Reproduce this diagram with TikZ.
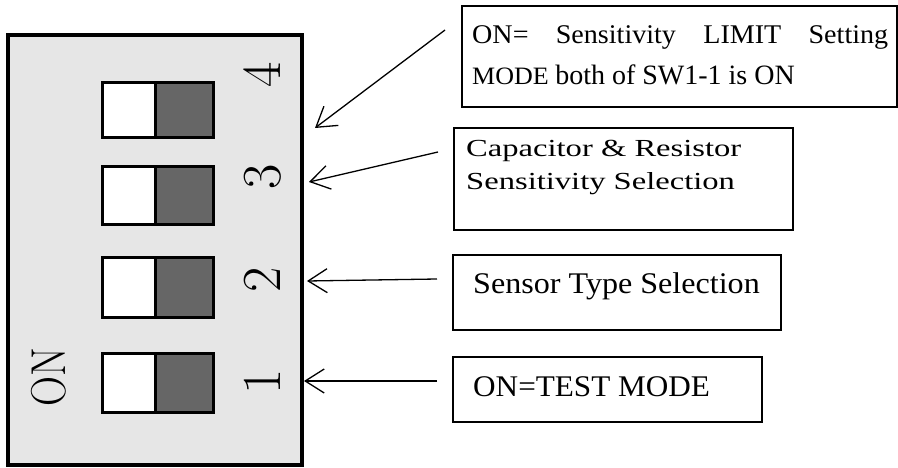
\documentclass[tikz,border=0pt]{standalone}
\usepackage{fontspec}
\usetikzlibrary{arrows.meta}
\newfontfamily\lsone{Liberation Serif}
\newfontfamily\lswide[FakeStretch=1.04]{Liberation Serif}
\newfontfamily\lstwo[FakeStretch=1.33]{Liberation Serif}
\newfontfamily\lsthree[FakeStretch=1.07]{Liberation Serif}
\newfontfamily\lsfour[FakeStretch=1.04]{Liberation Serif}
\definecolor{panel}{HTML}{E6E6E6}
\definecolor{knob}{HTML}{666666}
\begin{document}
\begin{tikzpicture}[x=1pt,y=-1pt,
  arr/.style={line width=1.3pt,-{Straight Barb[length=19pt,width=24pt,line width=1.3pt]}},
  lbox/.style={draw,line width=1.6pt,inner sep=0pt},
  digit/.style={rotate=90,inner sep=0pt,font=\fontsize{55}{60}\selectfont},
  txt/.style={inner sep=0pt,anchor=base west}]
\useasboundingbox (0,0) rectangle (898,468);
% panel
\draw[line width=3.5pt,fill=panel] (8,35) rectangle (302,465);
% switches
\foreach \t/\b in {83/138,167/225,258/317,353/412}{
  \fill[white] (102,\t) rectangle (155,\b);
  \fill[knob] (155,\t) rectangle (213,\b);
  \draw[line width=3pt] (102,\t) rectangle (213,\b);
  \draw[line width=3pt] (155,\t) -- (155,\b);
}
% digits
\node[digit] (n4) at (262,75) {4};
\node[digit] (n3) at (263,177) {3};
\node[digit] (n2) at (262,280) {2};
\node[digit] (n1) at (262,382) {1};
\node[rotate=90,inner sep=0pt,font=\fontsize{49}{55}\selectfont] (on) at (49,377) {\scalebox{0.85}[1]{ON}};
% label boxes
\node[lbox,minimum width=435pt,minimum height=101pt] (b1) at (679.5,56.5) {};
\node[lbox,minimum width=339pt,minimum height=102pt] (b2) at (623.5,179) {};
\node[lbox,minimum width=328pt,minimum height=75pt] (b3) at (617,292.5) {};
\node[lbox,minimum width=309pt,minimum height=65pt] (b4) at (607.5,389.5) {};
% texts
\node[txt] (t1a) at (472,44) {\lswide\fontsize{27}{31}\selectfont\makebox[416pt][s]{ON= Sensitivity LIMIT Setting}};
\node[txt] (t1b) at (472,85) {\lswide\fontsize{25}{30}\selectfont MODE \lsone\fontsize{28}{32}\selectfont both of SW1-1 is ON};
\node[txt] (t2a) at (466,157) {\lstwo\fontsize{24.5}{28}\selectfont Capacitor \& Resistor};
\node[txt] (t2b) at (466,190) {\lstwo\fontsize{24.5}{28}\selectfont Sensitivity Selection};
\node[txt] (t3) at (473,293) {\lsthree\fontsize{30}{34}\selectfont Sensor Type Selection};
\node[txt] (t4) at (473,396) {\lsfour\fontsize{30}{34}\selectfont ON=TEST MODE};
% arrows
\coordinate (a1s) at (445,30);  \coordinate (a1e) at (315,128);
\coordinate (a2s) at (438,152); \coordinate (a2e) at (309,182);
\coordinate (a3s) at (437,279); \coordinate (a3e) at (307,281);
\coordinate (a4s) at (437,381); \coordinate (a4e) at (304,381);
\draw[arr] (a1s) -- (a1e);
\draw[arr] (a2s) -- (a2e);
\draw[arr] (a3s) -- (a3e);
\draw[arr] (a4s) -- (a4e);
\end{tikzpicture}
\end{document}
